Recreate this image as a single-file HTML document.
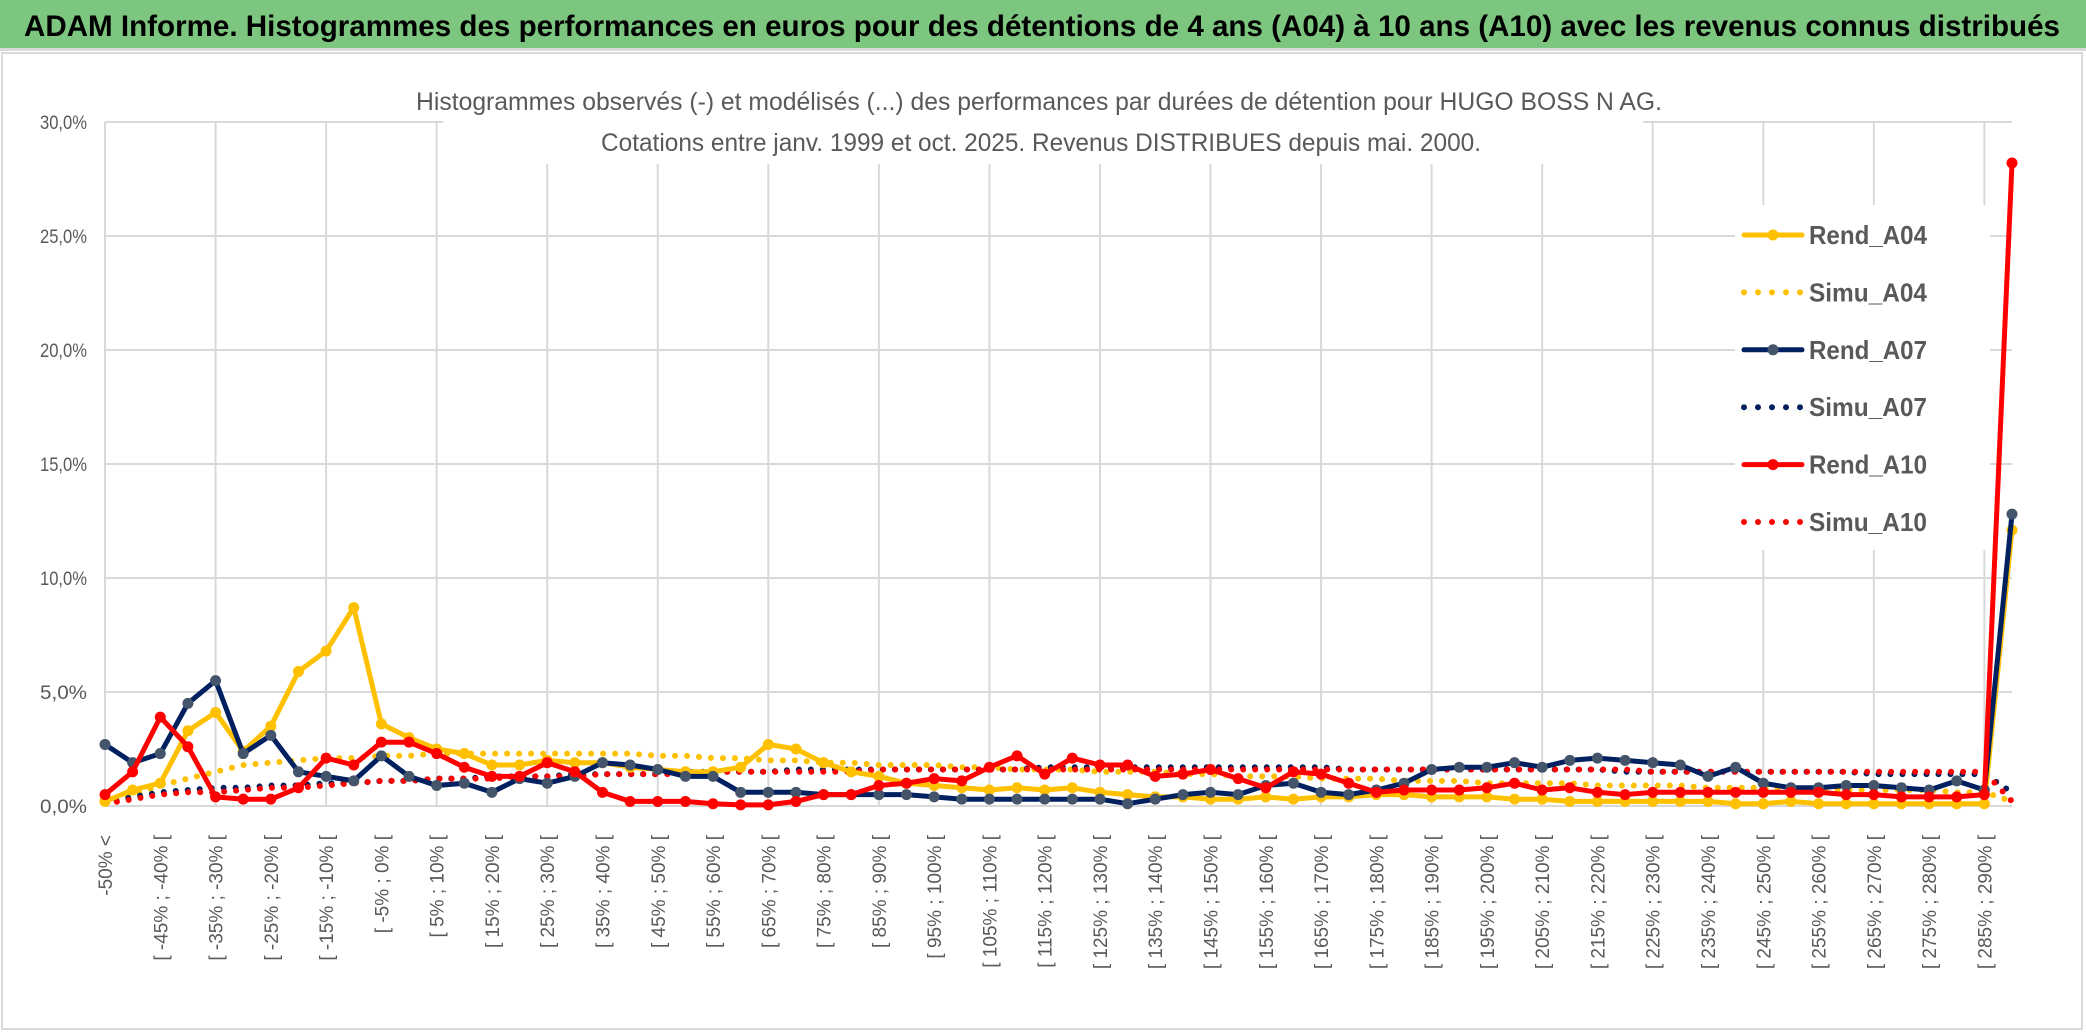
<!DOCTYPE html>
<html><head><meta charset="utf-8">
<style>
html,body{margin:0;padding:0;background:#fff;}
body{width:2086px;height:1033px;overflow:hidden;position:relative;font-family:"Liberation Sans",sans-serif;}
#bar{position:absolute;left:0;top:0;width:2086px;height:51px;background:#7dc67f;border-bottom:3px solid #d9d9d9;box-sizing:border-box;}
svg{position:absolute;left:0;top:0;}
</style></head><body>
<div id="bar"></div>
<svg id="chart" width="2086" height="1033">
<text x="24" y="36" font-size="30" font-weight="bold" fill="#000" textLength="2036" lengthAdjust="spacingAndGlyphs">ADAM Informe. Histogrammes des performances en euros pour des détentions de 4 ans (A04) à 10 ans (A10) avec les revenus connus distribués</text>
</svg>
<script>
const rendA04=[0.2,0.7,1.0,3.3,4.1,2.4,3.5,5.9,6.8,8.7,3.6,3.0,2.5,2.3,1.8,1.8,2.0,1.9,1.9,1.7,1.6,1.5,1.5,1.7,2.7,2.5,1.9,1.5,1.3,1.0,0.9,0.8,0.7,0.8,0.7,0.8,0.6,0.5,0.4,0.4,0.3,0.3,0.4,0.3,0.4,0.4,0.5,0.5,0.4,0.4,0.4,0.3,0.3,0.2,0.2,0.2,0.2,0.2,0.2,0.1,0.1,0.2,0.1,0.1,0.1,0.1,0.1,0.1,0.1,12.1];
const simuA04=[0.1,0.5,0.9,1.2,1.5,1.8,1.9,2.0,2.1,2.1,2.2,2.2,2.3,2.3,2.3,2.3,2.3,2.3,2.3,2.3,2.2,2.2,2.1,2.1,2.0,2.0,1.9,1.9,1.8,1.8,1.8,1.7,1.7,1.6,1.6,1.6,1.5,1.5,1.5,1.4,1.4,1.3,1.3,1.3,1.2,1.2,1.2,1.1,1.1,1.1,1.0,1.0,1.0,1.0,0.9,0.9,0.9,0.9,0.8,0.8,0.8,0.8,0.7,0.7,0.7,0.7,0.7,0.6,0.6,0.2];
const rendA07=[2.7,1.9,2.3,4.5,5.5,2.3,3.1,1.5,1.3,1.1,2.2,1.3,0.9,1.0,0.6,1.2,1.0,1.3,1.9,1.8,1.6,1.3,1.3,0.6,0.6,0.6,0.5,0.5,0.5,0.5,0.4,0.3,0.3,0.3,0.3,0.3,0.3,0.1,0.3,0.5,0.6,0.5,0.9,1.0,0.6,0.5,0.7,1.0,1.6,1.7,1.7,1.9,1.7,2.0,2.1,2.0,1.9,1.8,1.3,1.7,1.0,0.8,0.8,0.9,0.9,0.8,0.7,1.1,0.7,12.8];
const simuA07=[0.1,0.4,0.6,0.7,0.8,0.8,0.9,0.9,1.0,1.0,1.1,1.1,1.2,1.2,1.3,1.3,1.3,1.4,1.4,1.4,1.4,1.5,1.5,1.5,1.5,1.6,1.6,1.6,1.6,1.6,1.6,1.6,1.6,1.6,1.7,1.7,1.7,1.7,1.7,1.7,1.7,1.7,1.7,1.7,1.7,1.6,1.6,1.6,1.6,1.6,1.6,1.6,1.6,1.6,1.6,1.5,1.5,1.5,1.5,1.5,1.5,1.5,1.5,1.5,1.4,1.4,1.4,1.4,1.4,0.6];
const rendA10=[0.5,1.5,3.9,2.6,0.4,0.3,0.3,0.8,2.1,1.8,2.8,2.8,2.3,1.7,1.3,1.3,1.9,1.5,0.6,0.2,0.2,0.2,0.1,0.05,0.05,0.2,0.5,0.5,0.9,1.0,1.2,1.1,1.7,2.2,1.4,2.1,1.8,1.8,1.3,1.4,1.6,1.2,0.8,1.5,1.4,1.0,0.6,0.7,0.7,0.7,0.8,1.0,0.7,0.8,0.6,0.5,0.6,0.6,0.6,0.6,0.6,0.6,0.6,0.5,0.5,0.4,0.4,0.4,0.5,28.2];
const simuA10=[0.1,0.3,0.5,0.6,0.6,0.7,0.8,0.8,0.9,1.0,1.1,1.1,1.2,1.2,1.2,1.3,1.3,1.3,1.4,1.4,1.4,1.4,1.5,1.5,1.5,1.5,1.5,1.5,1.6,1.6,1.6,1.6,1.6,1.6,1.6,1.6,1.6,1.6,1.6,1.6,1.6,1.6,1.6,1.6,1.6,1.6,1.6,1.6,1.6,1.6,1.6,1.6,1.6,1.6,1.6,1.6,1.5,1.5,1.5,1.5,1.5,1.5,1.5,1.5,1.5,1.5,1.5,1.5,1.5,0.2];
const yTicks=[0,5,10,15,20,25,30];
const categories=[];
for(let k=0;k<70;k++){ if(k===0) categories.push('-50% <'); else { const a=-55+5*k; categories.push('[ '+a+'% ; '+(a+5)+'% ['); } }

const NS='http://www.w3.org/2000/svg';
const svg=document.getElementById('chart');
const X0=105,X1=2012,Y0=806,Y30=122;
const xAt=i=>X0+i*(X1-X0)/(categories.length-1);
const yAt=v=>Y0-v*(Y0-Y30)/30;
function mk(tag,attrs,parent){const e=document.createElementNS(NS,tag);for(const k in attrs)e.setAttribute(k,attrs[k]);(parent||svg).appendChild(e);return e;}

const frame=mk('rect',{x:2,y:53,width:2080,height:976,fill:'none',stroke:'#d9d9d9','stroke-width':2});



const grid=mk('g',{});


yTicks.forEach(t=>{mk('line',{x1:X0,x2:X1,y1:yAt(t),y2:yAt(t),stroke:'#d9d9d9','stroke-width':2},grid);});
for(let i=0;i<categories.length;i+=4){mk('line',{x1:xAt(i),x2:xAt(i),y1:Y30,y2:Y0,stroke:'#d9d9d9','stroke-width':2},grid);}
mk('rect',{x:443,y:60,width:1200,height:104,fill:'#fff'});
mk('rect',{x:1735,y:205,width:255,height:345,fill:'#fff'});

const st=mk('text',{x:416,y:110,'font-size':25,fill:'#595959',textLength:1246,lengthAdjust:'spacingAndGlyphs'});
st.textContent='Histogrammes observés (-) et modélisés (...) des performances par durées de détention pour HUGO BOSS N AG.';


const st2=mk('text',{x:601,y:151,'font-size':25,fill:'#595959',textLength:880,lengthAdjust:'spacingAndGlyphs'});
st2.textContent='Cotations entre janv. 1999 et oct. 2025. Revenus DISTRIBUES depuis mai. 2000.';



yTicks.forEach(t=>{
  const e=mk('text',{x:87,y:yAt(t)+7,'text-anchor':'end','font-size':19,fill:'#595959',textLength:47,lengthAdjust:'spacingAndGlyphs'});
  e.textContent=t.toFixed(1).replace('.',',')+'%';
  
  
});
categories.forEach((c,i)=>{
  if(i%2) return;
  const x=xAt(i)+7, y=835;
  const e=mk('text',{x:x,y:y,transform:`rotate(-90 ${x} ${y})`,'text-anchor':'end','font-size':19,fill:'#595959'});
  e.textContent=c;
  
  
});

const series=[
 {name:'simu-a04',data:simuA04,color:'#ffc000',dotted:true},
 {name:'simu-a07',data:simuA07,color:'#002060',dotted:true},
 {name:'simu-a10',data:simuA10,color:'#ff0000',dotted:true},
 {name:'rend-a04',data:rendA04,color:'#ffc000',marker:'#ffc000'},
 {name:'rend-a07',data:rendA07,color:'#002060',marker:'#44546a'},
 {name:'rend-a10',data:rendA10,color:'#ff0000',marker:'#ff0000'}
];
series.forEach(s=>{
  const g=mk('g',{});
  
  
  const pts=s.data.map((v,i)=>xAt(i).toFixed(1)+','+yAt(v).toFixed(1)).join(' ');
  const pl=mk('polyline',{points:pts,fill:'none',stroke:s.color,'stroke-width':s.dotted?6:5,'stroke-linejoin':'round','stroke-linecap':'round'},g);
  if(s.dotted){pl.setAttribute('stroke-dasharray','0 12');}
  
  
  if(s.marker){
    s.data.forEach((v,i)=>{
      const c=mk('circle',{cx:xAt(i),cy:yAt(v),r:5.5,fill:s.marker},g);
      
      
    });
  }
});

const legendItems=[
 {label:'Rend_A04',color:'#ffc000',marker:'#ffc000'},
 {label:'Simu_A04',color:'#ffc000',dotted:true},
 {label:'Rend_A07',color:'#002060',marker:'#44546a'},
 {label:'Simu_A07',color:'#002060',dotted:true},
 {label:'Rend_A10',color:'#ff0000',marker:'#ff0000'},
 {label:'Simu_A10',color:'#ff0000',dotted:true}
];
const lg=mk('g',{});


legendItems.forEach((it,k)=>{
  const y=235+k*57.4;
  const g=mk('g',{},lg);
  
  
  const l=mk('line',{x1:1744,x2:1802,y1:y,y2:y,stroke:it.color,'stroke-width':it.dotted?6:5,'stroke-linecap':'round'},g);
  if(it.dotted) l.setAttribute('stroke-dasharray','0 14');
  if(it.marker) mk('circle',{cx:1773,cy:y,r:5.5,fill:it.marker},g);
  const t=mk('text',{x:1809,y:y+9,'font-size':26,'font-weight':'bold',fill:'#595959',textLength:118,lengthAdjust:'spacingAndGlyphs'},g);
  t.textContent=it.label;
});
</script>
</body></html>
